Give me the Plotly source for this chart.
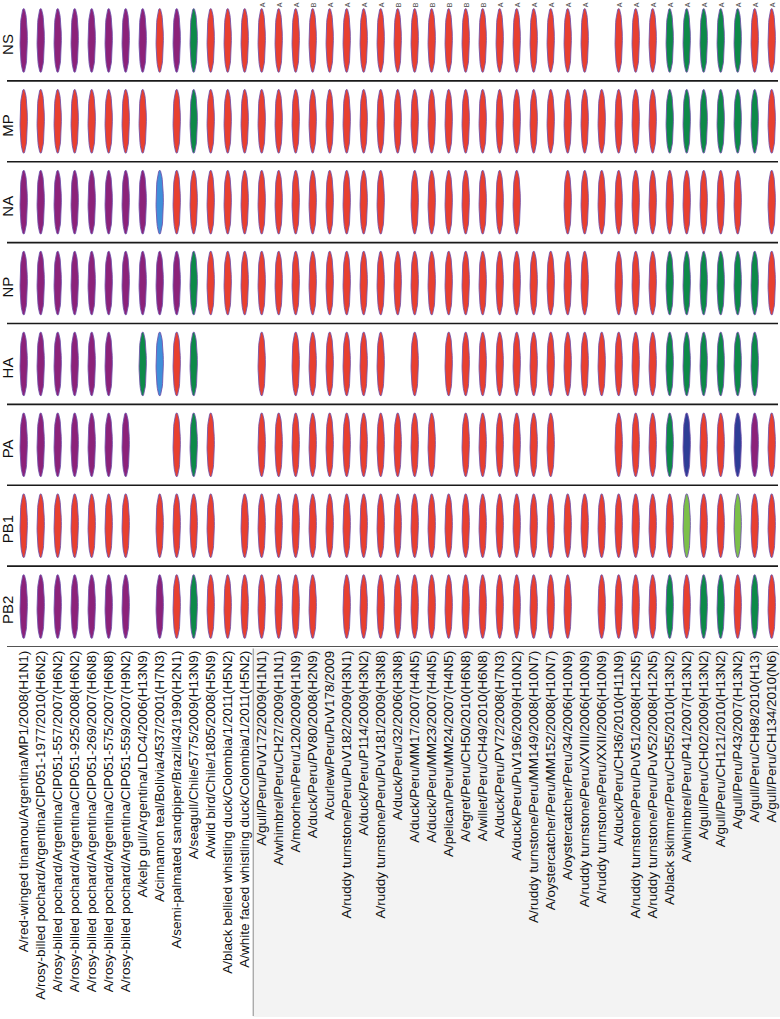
import numpy as np
import plotly.graph_objects as go

segments = ["NS", "MP", "NA", "NP", "HA", "PA", "PB1", "PB2"]

strains = [
    "A/red-winged tinamou/Argentina/MP1/2008(H1N1)",
    "A/rosy-billed pochard/Argentina/CIP051-1977/2010(H6N2)",
    "A/rosy-billed pochard/Argentina/CIP051-557/2007(H6N2)",
    "A/rosy-billed pochard/Argentina/CIP051-925/2008(H6N2)",
    "A/rosy-billed pochard/Argentina/CIP051-269/2007(H6N8)",
    "A/rosy-billed pochard/Argentina/CIP051-575/2007(H6N8)",
    "A/rosy-billed pochard/Argentina/CIP051-559/2007(H9N2)",
    "A/kelp gull/Argentina/LDC4/2006(H13N9)",
    "A/cinnamon teal/Bolivia/4537/2001(H7N3)",
    "A/semi-palmated sandpiper/Brazil/43/1990(H2N1)",
    "A/seagull/Chile/5775/2009(H13N9)",
    "A/wild bird/Chile/1805/2008(H5N9)",
    "A/black bellied whistling duck/Colombia/1/2011(H5N2)",
    "A/white faced whistling duck/Colombia/1/2011(H5N2)",
    "A/gull/Peru/PuV172/2009(H1N1)",
    "A/whimbrel/Peru/CH27/2009(H1N1)",
    "A/moorhen/Peru/120/2009(H1N9)",
    "A/duck/Peru/PV80/2008(H2N9)",
    "A/curlew/Peru/PuV178/2009",
    "A/ruddy turnstone/Peru/PuV182/2009(H3N1)",
    "A/duck/Peru/P114/2009(H3N2)",
    "A/ruddy turnstone/Peru/PuV181/2009(H3N8)",
    "A/duck/Peru/32/2006(H3N8)",
    "A/duck/Peru/MM17/2007(H4N5)",
    "A/duck/Peru/MM23/2007(H4N5)",
    "A/pelican/Peru/MM24/2007(H4N5)",
    "A/egret/Peru/CH50/2010(H6N8)",
    "A/willet/Peru/CH49/2010(H6N8)",
    "A/duck/Peru/PV72/2008(H7N3)",
    "A/duck/Peru/PuV196/2009(H10N2)",
    "A/ruddy turnstone/Peru/MM149/2008(H10N7)",
    "A/oystercatcher/Peru/MM152/2008(H10N7)",
    "A/oystercatcher/Peru/34/2006(H10N9)",
    "A/ruddy turnstone/Peru/XVIII/2006(H10N9)",
    "A/ruddy turnstone/Peru/XXII/2006(H10N9)",
    "A/duck/Peru/CH36/2010(H11N9)",
    "A/ruddy turnstone/Peru/PuV51/2008(H12N5)",
    "A/ruddy turnstone/Peru/PuV52/2008(H12N5)",
    "A/black skimmer/Peru/CH55/2010(H13N2)",
    "A/whimbrel/Peru/P41/2007(H13N2)",
    "A/gull/Peru/CH02/2009(H13N2)",
    "A/gull/Peru/CH121/2010(H13N2)",
    "A/gull/Peru/P43/2007(H13N2)",
    "A/gull/Peru/CH98/2010(H13)",
    "A/gull/Peru/CH134/2010(N6)",
]

# lineage codes per segment, one character per strain ('.' = not available)
NS  = "PPPPPPPPRPG" + "R" * 23 + "." + "RRR" + "GGGGG" + "RR"
MP  = "RRRRRRRR.RG" + "R" * 27 + "GGGGGG" + "R"
NA  = "PPPPPPPPB" + "R" * 13 + "." + "R" * 7 + ".." + "R" * 11 + "." + "R"
NP  = "PPPPPPPPPPG" + "R" * 23 + "." + "RRR" + "GGGGGG" + "R"
HA  = "PPPPPP.GBRG...R." + "R" * 6 + ".R." + "R" * 13 + "GGGGGG."
PA  = "PPPPPPP..RGR.." + "R" * 11 + "." + "R" * 6 + "...RRRGDRRDPR"
PB1 = "RRRRRRR.RRRR." + "R" * 26 + "LRRLRR"
PB2 = "PPPPPPP.PRG" + "R" * 7 + "." + "R" * 14 + "." + "RRRRGRGGRGR"
segment_codes = [NS, MP, NA, NP, HA, PA, PB1, PB2]

# superscript markers above NS row
markers = [""] * 14 + ["A", "A", "A", "B", "A", "A", "A", "A",
                       "B", "B", "B", "B", "B", "B",
                       "A", "A", "A", "A", "A", "A", "",
                       "A", "A", "A", "A", "A", "A", "A", "A", "A", "A"]

palette = {
    "P": "#8c2279",
    "R": "#e8402f",
    "G": "#0d8a48",
    "B": "#3f8fd9",
    "D": "#2e3d96",
    "L": "#7cc049",
}

W, H = 780, 1019
plot_h = 647
x0_px, dx_px = 23.7, 17.0
xr = [-x0_px / dx_px, (W - x0_px) / dx_px]

rx, ry = 0.215, 0.395
t = np.linspace(0, 2 * np.pi, 48)

fig = go.Figure()
for code, color in palette.items():
    xs, ys = [], []
    for r, codes in enumerate(segment_codes):
        for c, ch in enumerate(codes):
            if ch == code:
                xs += list(c + rx * np.cos(t)) + [None]
                ys += list(r + ry * np.sin(t)) + [None]
    if xs:
        fig.add_trace(go.Scatter(
            x=xs, y=ys, mode="lines", fill="toself", fillcolor=color,
            line=dict(color="rgba(110,80,170,0.85)", width=1),
            hoverinfo="skip", showlegend=False))

shapes = []
for k in range(len(segments)):
    shapes.append(dict(type="line", xref="paper", yref="y",
                       x0=7 / W, x1=778 / W, y0=k + 0.5, y1=k + 0.5,
                       line=dict(color="#1a1a1a", width=1.6)))
gx = (x0_px + dx_px * 13.5) / W
shapes.append(dict(type="rect", xref="paper", yref="paper", layer="below",
                   x0=gx, x1=1, y0=-(1017 - plot_h) / plot_h, y1=-1.5 / plot_h,
                   fillcolor="#f3f3f3", line=dict(width=0)))
shapes.append(dict(type="line", xref="paper", yref="paper",
                   x0=gx, x1=gx, y0=-(1016 - plot_h) / plot_h, y1=-1.5 / plot_h,
                   line=dict(color="#8a8a8a", width=1)))

annotations = []
for k, s in enumerate(segments):
    annotations.append(dict(x=7.5 / W, xref="paper", y=k, yref="y", text=s,
                            showarrow=False, textangle=-90, yshift=-4,
                            font=dict(family="Liberation Sans, Arial", size=15, color="#111"),
                            xanchor="center", yanchor="middle"))
for c, m in enumerate(markers):
    if m:
        annotations.append(dict(x=c, xref="x", y=1, yref="paper", text=m,
                                showarrow=False, textangle=-90, yanchor="top",
                                xanchor="center", xshift=1,
                                font=dict(family="Liberation Sans, Arial", size=7, color="#444")))

fig.update_layout(
    width=W, height=H,
    margin=dict(l=0, r=0, t=0, b=H - plot_h, pad=0),
    plot_bgcolor="white", paper_bgcolor="white",
    shapes=shapes, annotations=annotations,
    xaxis=dict(range=xr, tickvals=list(range(len(strains))), ticktext=strains,
               tickangle=-90, showgrid=False, zeroline=False, showline=False,
               ticks="", automargin=False, fixedrange=True,
               tickfont=dict(family="Liberation Sans Narrow, Arial Narrow, Liberation Sans, Arial",
                             size=13.5, color="#111")),
    yaxis=dict(range=[len(segments) - 0.5, -0.5], showgrid=False, zeroline=False,
               showticklabels=False, showline=False, automargin=False, fixedrange=True),
)

fig.write_html("out.html", config={"displayModeBar": False},
               post_script="document.body.style.margin='0px';document.body.style.padding='0px';")
